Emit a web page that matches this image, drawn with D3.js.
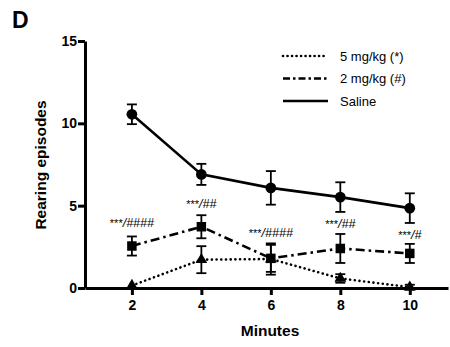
<!DOCTYPE html>
<html>
<head>
<meta charset="utf-8">
<script src="https://cdn.jsdelivr.net/npm/d3@7"></script>
<style>
  body { margin: 0; background: #fff; }
  svg { font-family: "Liberation Sans", Arial, sans-serif; }
</style>
</head>
<body>
<svg id="chart" width="450" height="347"></svg>
<script>
// values (mean, sem)
var minutes = [2, 4, 6, 8, 10];
var saline = [10.55, 6.9, 6.08, 5.52, 4.85];
var salineErr = [0.6, 0.64, 1.02, 0.9, 0.9];
var dose2 = [2.55, 3.72, 1.8, 2.4, 2.1];
var dose2Err = [0.58, 0.7, 0.82, 0.88, 0.58];
var dose5 = [0.15, 1.72, 1.76, 0.58, 0.05];
var dose5Err = [0.0, 0.82, 0.95, 0.26, 0.15];
var stars = ["***", "***", "***", "***", "***"];
var hashes = ["/####", "/##", "/####", "/##", "/#"];
var yTicks = [0, 5, 10, 15];
var legendLabels = ["5 mg/kg (*)", "2 mg/kg (#)", "Saline"];

var svg = d3.select("#chart");

var x = d3.scaleLinear().domain([0.65, 11.1]).range([85, 448]);
var y = d3.scaleLinear().domain([0, 15]).range([288, 41]);

// panel letter
svg.append("text")
    .attr("x", 12).attr("y", 28)
    .style("font-size", "23px").style("font-weight", "bold")
    .text("D");

// axes
var yAxis = d3.axisLeft(y).tickValues(yTicks).tickSize(7).tickSizeOuter(0).tickPadding(1);
var xAxis = d3.axisBottom(x).tickValues(minutes).tickSize(7).tickSizeOuter(0).tickPadding(5);

function styleAxis(g) {
  g.select(".domain").attr("stroke-width", 3);
  g.selectAll(".tick line").attr("stroke-width", 3);
  g.selectAll(".tick text")
      .style("font-size", "14px").style("font-weight", "bold")
      .attr("fill", "#000");
}

svg.append("g").attr("transform", "translate(85,0)").call(yAxis).call(styleAxis);
svg.append("g").attr("transform", "translate(0,288)").call(xAxis).call(styleAxis);

svg.append("text")
    .attr("transform", "translate(46,165) rotate(-90)")
    .attr("text-anchor", "middle")
    .style("font-size", "15.5px").style("font-weight", "bold")
    .text("Rearing episodes");

svg.append("text")
    .attr("x", 270).attr("y", 336)
    .attr("text-anchor", "middle")
    .style("font-size", "15.5px").style("font-weight", "bold")
    .text("Minutes");

var series = [
  { vals: dose5, err: dose5Err, dash: "0.1,4.6", cap: "round", sym: d3.symbolTriangle, size: 60 },
  { vals: dose2, err: dose2Err, dash: "9,4,2.5,4", cap: "butt", sym: d3.symbolSquare, size: 90 },
  { vals: saline, err: salineErr, dash: null, cap: "butt", sym: d3.symbolCircle, size: 90 }
];

var line = d3.line()
    .x(function(d) { return x(d[0]); })
    .y(function(d) { return y(d[1]); });

series.forEach(function(s) {
  var pts = minutes.map(function(m, i) { return [m, s.vals[i], s.err[i]]; });

  svg.append("path")
      .datum(pts)
      .attr("d", line)
      .attr("fill", "none")
      .attr("stroke", "#000")
      .attr("stroke-width", 2.6)
      .attr("stroke-linecap", s.cap)
      .attr("stroke-dasharray", s.dash);

  var eb = svg.append("g").attr("stroke", "#000").attr("stroke-width", 1.8);
  pts.forEach(function(p) {
    if (!p[2]) return;
    var cx = x(p[0]), top = y(p[1] + p[2]), bot = y(p[1] - p[2]);
    eb.append("line").attr("x1", cx).attr("x2", cx).attr("y1", top).attr("y2", bot);
    eb.append("line").attr("x1", cx - 5).attr("x2", cx + 5).attr("y1", top).attr("y2", top);
    eb.append("line").attr("x1", cx - 5).attr("x2", cx + 5).attr("y1", bot).attr("y2", bot);
  });

  svg.append("g").selectAll("path")
    .data(pts)
    .join("path")
      .attr("transform", function(d) { return "translate(" + x(d[0]) + "," + y(d[1]) + ")"; })
      .attr("d", d3.symbol().type(s.sym).size(s.size))
      .attr("fill", "#000");
});

// significance marks above the 2 mg/kg points
var starY = [3.7, 4.85, 3.1, 3.65, 2.95];
var sig = svg.append("g").selectAll("text")
  .data(minutes)
  .join("text")
    .attr("x", function(d) { return x(d); })
    .attr("y", function(d, i) { return y(starY[i]); })
    .attr("text-anchor", "middle")
    .style("font-size", "12.5px");
sig.append("tspan").style("font-size", "11px").text(function(d, i) { return stars[i]; });
sig.append("tspan").style("font-style", "italic").text(function(d, i) { return hashes[i]; });

// legend
var legend = svg.append("g").attr("transform", "translate(283,56)");
legendLabels.forEach(function(lab, i) {
  var s = series[i];
  legend.append("line")
      .attr("x1", 0).attr("x2", 45)
      .attr("y1", i * 22.5).attr("y2", i * 22.5)
      .attr("stroke", "#000").attr("stroke-width", 2.6)
      .attr("stroke-linecap", s.cap)
      .attr("stroke-dasharray", i == 0 ? "0.1,4.4" : (i == 1 ? "7,3,2.5,3" : null));
  legend.append("text")
      .attr("x", 57).attr("y", i * 22.5 + 4.5)
      .style("font-size", "13px")
      .text(lab);
});
</script>
</body>
</html>
